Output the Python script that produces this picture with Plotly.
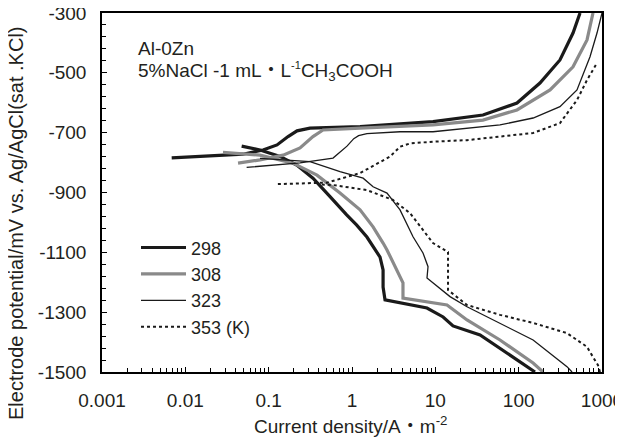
import plotly.graph_objects as go

# ---- data (current density A/m^2, potential mV) ----
temps = ["298", "308", "323", "353 (K)"]

i298_cat = [157, 59.7, 34.4, 16.3, 12.4, 7.94, 2.49, 2.36, 2.36, 2.17, 1.89, 1.51, 1.14, 0.863, 0.545, 0.340, 0.217, 0.137, 0.0787, 0.0474]
e298_cat = [-1500, -1420, -1376, -1346, -1316, -1286, -1259, -1216, -1159, -1116, -1092, -1049, -1009, -975, -914, -852, -808, -780, -758, -745]
i298_an = [0.00686, 0.0198, 0.0492, 0.0855, 0.126, 0.171, 0.219, 0.313, 1.25, 9.38, 37.3, 95.5, 180, 313, 449, 545]
e298_an = [-784, -778, -772, -758, -741, -713, -694, -685, -680, -663, -641, -601, -534, -457, -367, -300]

i308_cat = [196, 149, 59.7, 34.4, 24, 13.8, 6.55, 4.09, 4.09, 3.47, 2.63, 2.36, 1.79, 1.25, 0.718, 0.380, 0.196, 0.0787, 0.0283]
e308_cat = [-1500, -1470, -1393, -1353, -1326, -1276, -1263, -1253, -1202, -1159, -1092, -1069, -1015, -958, -902, -842, -802, -775, -766]
i308_an = [0.0429, 0.0787, 0.149, 0.238, 0.340, 0.449, 1.25, 9.38, 37.3, 95.5, 238, 449, 661, 780]
e308_an = [-802, -791, -775, -751, -713, -691, -685, -674, -658, -624, -557, -480, -390, -300]

i323_cat = [437, 380, 149, 59.7, 24, 15, 9.38, 7.94, 8.17, 7.11, 5.40, 3.77, 2.63, 1.79, 1.36, 0.718, 0.313, 0.0787]
e323_cat = [-1500, -1482, -1393, -1336, -1282, -1248, -1202, -1186, -1148, -1102, -1048, -958, -902, -881, -852, -830, -797, -786]
i323_an = [0.0544, 0.125, 0.238, 0.592, 0.871, 1.05, 1.2, 1.51, 3.77, 9.38, 59.7, 149, 313, 501, 718, 871, 1000]
e323_an = [-816, -808, -801, -785, -745, -720, -710, -703, -697, -697, -674, -651, -613, -557, -446, -367, -300]

i353_cat = [946, 895, 780, 661, 380, 149, 59.7, 24, 14.2, 14.2, 14.2, 9.38, 7.52, 4.97, 3.10, 1.51, 0.592, 0.413]
e353_cat = [-1500, -1477, -1450, -1416, -1370, -1336, -1309, -1276, -1226, -1149, -1099, -1069, -1035, -969, -925, -892, -875, -873]
i353_an = [0.129, 0.238, 0.501, 1.25, 2.86, 3.77, 4.97, 9.38, 24, 59.7, 149, 313, 501, 661, 871]
e353_an = [-872, -869, -867, -835, -780, -747, -736, -730, -725, -713, -701, -668, -591, -524, -467]

x_tickvals = [0.001, 0.01, 0.1, 1, 10, 100, 1000]
x_ticktext = ["0.001", "0.01", "0.1", "1", "10", "100", "1000"]
x_minor = [k * 10.0 ** e for e in range(-3, 3) for k in range(2, 10)]
y_tickvals = [-1500, -1300, -1100, -900, -700, -500, -300]
y_ticktext = ["-1500", "-1300", "-1100", "-900", "-700", "-500", "-300"]

series = [
    (temps[0], i298_cat, e298_cat, i298_an, e298_an, dict(color="#1a1a1a", width=3.2)),
    (temps[1], i308_cat, e308_cat, i308_an, e308_an, dict(color="#8a8a8a", width=3.2)),
    (temps[2], i323_cat, e323_cat, i323_an, e323_an, dict(color="#1a1a1a", width=1.3)),
    (temps[3], i353_cat, e353_cat, i353_an, e353_an, dict(color="#1a1a1a", width=2, dash="dot")),
]

FONT = "Liberation Sans, Arial, Noto Sans CJK JP, sans-serif"
TXT = "#231f20"

fig = go.Figure()
for name, xc, yc, xa, ya, line in series:
    fig.add_trace(go.Scatter(
        x=list(xc) + [None] + list(xa),
        y=list(yc) + [None] + list(ya),
        mode="lines", name=name, line=line, connectgaps=False,
    ))

fig.update_layout(
    width=615, height=429,
    margin=dict(l=94, r=21, t=5, b=65, autoexpand=False),
    plot_bgcolor="white", paper_bgcolor="white",
    font=dict(family=FONT, size=19, color=TXT),
    showlegend=True,
    legend=dict(x=0.068, y=0.3975, xanchor="left", yanchor="top",
                bgcolor="rgba(0,0,0,0)", font=dict(size=18, color=TXT),
                itemwidth=45, tracegroupgap=0),
    xaxis=dict(type="log", range=[-3, 3], tickvals=x_tickvals, ticktext=x_ticktext,
               automargin=False, ticklabeloverflow="allow",
               ticks="inside", ticklen=5, tickcolor="black", tickwidth=1,
               showline=True, linecolor="black", linewidth=1.5, mirror=True,
               showgrid=False, zeroline=False, ticklabelstandoff=10,
               minor=dict(ticks="inside", ticklen=4, tickvals=x_minor,
                          tickcolor="black", tickwidth=1, showgrid=False)),
    yaxis=dict(range=[-1500, -300], tickvals=y_tickvals, ticktext=y_ticktext,
               automargin=False, ticklabeloverflow="allow",
               ticks="inside", ticklen=5, tickcolor="black", tickwidth=1,
               showline=True, linecolor="black", linewidth=1.5, mirror=True,
               showgrid=False, zeroline=False, ticklabelstandoff=10,
               minor=dict(ticks="inside", ticklen=4, tick0=-1500, dtick=40,
                          tickcolor="black", tickwidth=1, showgrid=False)),
    annotations=[
        dict(text="Current density/A・m<sup>-2</sup>", xref="paper", yref="paper",
             x=0.496, y=-0.148, xanchor="center", yanchor="middle",
             showarrow=False, font=dict(size=19, color=TXT)),
        dict(text="Electrode potential/mV vs. Ag/AgCl(sat .KCl)", xref="paper", yref="paper",
             x=-0.172, y=0.415, xanchor="center", yanchor="middle", textangle=-90,
             showarrow=False, font=dict(size=20, color=TXT)),
        dict(text="Al-0Zn", xref="paper", yref="paper", x=0.068, y=0.9025,
             xanchor="left", yanchor="middle", showarrow=False, font=dict(size=19, color=TXT)),
        dict(text="5%NaCl -1 mL・L<sup><span style='font-size:11px'>-1</span></sup>CH<sub>3</sub>COOH",
             xref="paper", yref="paper",
             x=0.068, y=0.838, xanchor="left", yanchor="middle", showarrow=False,
             font=dict(size=19, color=TXT)),
    ],
)

fig.write_html("out.html")
